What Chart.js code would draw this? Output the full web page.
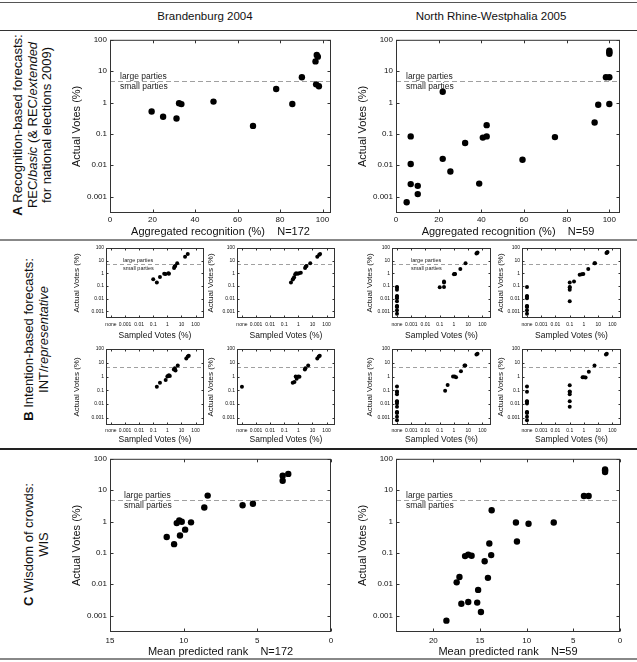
<!DOCTYPE html>
<html>
<head>
<meta charset="utf-8">
<script src="https://cdn.jsdelivr.net/npm/chart.js@4.4.1/dist/chart.umd.min.js"></script>
<style>
  body { margin: 0; width: 637px; height: 662px; position: relative; overflow: hidden; background: #fff;
         font-family: "Liberation Sans", Arial, sans-serif; color: #111; }
  canvas { position: absolute; }
  .hl { position: absolute; left: 0; width: 637px; }
  .ct { position: absolute; width: 300px; text-align: center; font-size: 11.5px; line-height: 14px; white-space: nowrap; }
  .rl { position: absolute; transform: rotate(-90deg); text-align: center; white-space: nowrap;
        font-size: 13px; line-height: 14.5px; }
</style>
</head>
<body>
<div class="hl" style="top:2px;height:1px;background:#555"></div>
<div class="hl" style="top:30px;height:1px;background:#333"></div>
<div class="hl" style="top:239px;height:2px;background:#888"></div>
<div class="hl" style="top:448px;height:2px;background:#222"></div>
<div class="hl" style="top:658px;height:2px;background:#888"></div>

<div class="ct" style="left:55px;top:9px">Brandenburg 2004</div>
<div class="ct" style="left:341px;top:9px">North Rhine-Westphalia 2005</div>

<div class="rl" style="left:-72px;top:103px;width:210px;height:44px">
  <b>A</b> Recognition-based forecasts:<br>REC/<i>basic</i> (&amp; REC/<i>extended</i><br>for national elections 2009)
</div>
<div class="rl" style="left:-64px;top:325px;width:200px;height:29px">
  <b>B</b> Intention-based forecasts:<br>INT/<i>representative</i>
</div>
<div class="rl" style="left:-64px;top:530px;width:200px;height:29px">
  <b>C</b> Wisdom of crowds:<br>WIS
</div>

<script>
// axis ticks
const Y_TICKS = [0.001, 0.01, 0.1, 1, 10, 100];
const Y_LABELS = ['0.001', '0.01', '0.1', '1', '10', '100'];
const REC_TICKS = [0, 20, 40, 60, 80, 100];
const RANK_TICKS_BB = [0, 5, 10, 15];
const RANK_TICKS_NRW = [0, 5, 10, 15, 20];
const SAMPLED_TICKS = [1e-4, 1e-3, 1e-2, 0.1, 1, 10, 100];
const SAMPLED_LABELS = ['none', '0.001', '0.01', '0.1', '1', '10', '100'];
const NONE = 1e-4;          // "none" sampled votes
const SPLIT = 5;            // large / small party threshold (%)
const SPLIT_LABELS = ['large parties', 'small parties'];

// A: recognition-based
const recBB   = [19.6, 25.0, 31.3, 32.5, 33.6, 48.7, 67.3, 78.2, 85.8, 90.3, 96.7, 97.3, 97.8, 97.0, 98.3];
const votesBB = [0.52, 0.35, 0.31, 0.95, 0.89, 1.07, 0.18, 2.7, 0.9, 6.4, 20.5, 33, 29, 3.8, 3.3];
const recNRW   = [5.0, 6.9, 6.9, 6.9, 10.2, 10.2, 21.9, 21.9, 25.5, 32.4, 39.0, 40.7, 42.5, 42.5, 59.3, 74.5, 93.1, 94.8, 100, 98.4, 100, 100, 100, 100];
const votesNRW = [0.00066, 0.083, 0.011, 0.0025, 0.0022, 0.0012, 2.2, 0.016, 0.0063, 0.051, 0.0026, 0.076, 0.19, 0.083, 0.015, 0.079, 0.23, 0.85, 0.9, 6.4, 6.4, 45, 40, 36];

// B: intention-based (sampled vs actual)
const intBB1x = [0.1, 0.18, 0.3, 0.6, 0.75, 1.2, 1.3, 3.0, 3.3, 3.6, 5.0, 18, 28];
const intBB1y = [0.35, 0.19, 0.52, 0.95, 0.9, 1.0, 0.92, 2.7, 3.4, 3.8, 6.4, 20.5, 33];
const intBB2x = [0.3, 0.4, 0.45, 0.5, 0.6, 0.7, 0.9, 1.1, 1.5, 3.0, 3.4, 3.8, 7, 22, 30, 35];
const intBB2y = [0.19, 0.33, 0.4, 0.5, 0.85, 1.0, 0.95, 1.0, 1.1, 2.7, 3.5, 3.8, 6.4, 20, 29, 33];
const intBB3x = [0.18, 0.3, 0.76, 1.0, 1.1, 1.3, 1.5, 2.9, 3.4, 3.8, 5.5, 22, 28, 33];
const intBB3y = [0.18, 0.35, 0.56, 1.0, 1.1, 1.25, 1.1, 3.2, 4.0, 2.7, 6.3, 20, 28, 33];
const intBB4x = [NONE, 0.4, 0.53, 0.65, 0.76, 1.0, 1.2, 2.9, 3.2, 5.0, 22, 28, 33];
const intBB4y = [0.18, 0.35, 0.4, 1.0, 0.7, 1.0, 0.95, 3.2, 4.0, 6.3, 20, 29, 33];

const intNRW1x = [NONE, NONE, NONE, NONE, NONE, NONE, NONE, NONE, NONE, NONE, NONE, NONE, 0.1, 0.2, 0.2, 0.2, 1.0, 1.1, 1.2, 2.8, 6.5, 38, 42, 45];
const intNRW1y = [0.083, 0.076, 0.051, 0.016, 0.015, 0.011, 0.0063, 0.0026, 0.0025, 0.0022, 0.0012, 0.00066, 0.079, 0.083, 0.19, 0.23, 0.85, 0.9, 0.9, 2.2, 6.4, 36, 40, 45];
const intNRW2x = [NONE, NONE, NONE, NONE, NONE, NONE, NONE, NONE, NONE, 0.1, 0.1, 0.1, 0.1, 0.1, 0.2, 0.5, 0.7, 0.9, 2.0, 5.5, 6.0, 38, 42, 45];
const intNRW2y = [0.083, 0.016, 0.015, 0.011, 0.0026, 0.0025, 0.0022, 0.0012, 0.00066, 0.19, 0.083, 0.076, 0.051, 0.0063, 0.23, 0.79, 0.85, 0.9, 2.2, 6.4, 6.4, 40, 45, 48];
const intNRW3x = [NONE, NONE, NONE, NONE, NONE, NONE, NONE, NONE, NONE, NONE, NONE, NONE, NONE, 0.24, 0.36, 0.86, 1.1, 1.4, 3.1, 5.5, 6.2, 38, 45];
const intNRW3y = [0.19, 0.083, 0.076, 0.051, 0.016, 0.015, 0.011, 0.0063, 0.0026, 0.0025, 0.0022, 0.0012, 0.00066, 0.094, 0.24, 1.0, 1.0, 0.9, 2.4, 6.4, 6.4, 40, 45];
const intNRW4x = [NONE, NONE, NONE, NONE, NONE, NONE, NONE, NONE, NONE, NONE, 0.1, 0.1, 0.1, 0.1, 0.1, 0.1, 0.8, 1.0, 1.3, 2.2, 5.5, 35, 40];
const intNRW4y = [0.19, 0.079, 0.016, 0.015, 0.011, 0.0026, 0.0025, 0.0022, 0.0012, 0.00066, 0.23, 0.083, 0.076, 0.051, 0.016, 0.0063, 0.9, 0.9, 0.85, 2.2, 6.4, 40, 45];

// C: wisdom of crowds (mean predicted rank)
const rankBB     = [11.15, 10.65, 10.47, 10.3, 10.25, 10.13, 9.9, 9.5, 8.6, 8.37, 6.0, 5.3, 3.28, 3.28, 2.9];
const votesBBwis = [0.32, 0.19, 0.89, 1.08, 0.36, 0.98, 0.55, 0.94, 2.8, 6.7, 3.3, 3.7, 29, 20, 33];
const rankNRW     = [18.6, 17.5, 17.2, 17.0, 16.6, 16.26, 15.9, 16.26, 15.3, 14.9, 15.2, 14.5, 14.15, 14.0, 13.8, 13.75, 11.15, 11.04, 9.8, 7.1, 3.86, 3.36, 1.6, 1.6, 1.6];
const votesNRWwis = [0.00069, 0.0115, 0.017, 0.0024, 0.079, 0.088, 0.081, 0.0027, 0.0026, 0.0013, 0.0066, 0.054, 0.016, 0.2, 0.085, 2.3, 0.93, 0.23, 0.85, 0.93, 6.5, 6.5, 46, 42, 38];

const FONT = '"Liberation Sans", Arial, sans-serif';
Chart.defaults.font.family = FONT;
Chart.defaults.color = '#111';

const zip = (xs, ys) => xs.map((x, i) => ({x: x, y: ys[i]}));
const setTicks = vals => s => { s.ticks = vals.map(v => ({value: v})); };

// box with inward ticks, plus the dashed 5% line
const frame = {
  id: 'frame',
  beforeDatasetsDraw(chart, args, o) {
    const {ctx, chartArea: a, scales: {y}} = chart;
    const yy = Math.round(y.getPixelForValue(SPLIT)) + 0.5;
    ctx.save();
    ctx.strokeStyle = '#a0a0a0';
    ctx.lineWidth = 1;
    ctx.setLineDash(o.dash);
    ctx.beginPath(); ctx.moveTo(a.left, yy); ctx.lineTo(a.right, yy); ctx.stroke();
    if (o.label) {
      ctx.fillStyle = '#222';
      ctx.font = o.label + 'px ' + FONT;
      ctx.textBaseline = 'middle';
      ctx.fillText(SPLIT_LABELS[0], a.left + o.dx, yy - o.dy);
      ctx.fillText(SPLIT_LABELS[1], a.left + o.dx, yy + o.dy);
    }
    ctx.restore();
  },
  afterDraw(chart, args, o) {
    const {ctx, chartArea: a, scales: {x, y}} = chart;
    const l = a.left + 0.5, r = a.right - 0.5, t = a.top + 0.5, b = a.bottom - 0.5;
    ctx.save();
    ctx.strokeStyle = '#333';
    ctx.lineWidth = 1;
    ctx.strokeRect(l, t, r - l, b - t);
    ctx.beginPath();
    x.ticks.forEach(tk => {
      const px = Math.round(x.getPixelForValue(tk.value)) + 0.5;
      ctx.moveTo(px, b); ctx.lineTo(px, b - o.tick);
      ctx.moveTo(px, t); ctx.lineTo(px, t + o.tick);
    });
    y.ticks.forEach(tk => {
      const py = Math.round(y.getPixelForValue(tk.value)) + 0.5;
      ctx.moveTo(l, py); ctx.lineTo(l + o.tick, py);
      ctx.moveTo(r, py); ctx.lineTo(r - o.tick, py);
    });
    ctx.stroke();
    ctx.restore();
  }
};

function plot(p) {
  const L = Math.round(p.ytx - p.yts * 0.6);
  const B = Math.round(p.xty + p.xts * 0.6);
  const T = p.t - p.padT, R = p.r + p.padR;
  const cv = document.createElement('canvas');
  cv.width = R - L; cv.height = B - T;
  cv.style.left = L + 'px'; cv.style.top = T + 'px';
  cv.style.width = (R - L) + 'px'; cv.style.height = (B - T) + 'px';
  document.body.appendChild(cv);
  const leftSpace = p.l - L, bottomSpace = B - p.b;
  const x = p.x;
  return new Chart(cv, {
    type: 'scatter',
    data: { datasets: [{ data: p.points, pointRadius: p.radius, pointHoverRadius: p.radius,
                         pointBackgroundColor: '#000', pointBorderWidth: 0 }] },
    options: {
      responsive: false, animation: false, events: [],
      layout: { padding: { top: p.padT, right: p.padR, left: 0, bottom: 0 } },
      plugins: { legend: { display: false }, tooltip: { enabled: false }, frame: p.frame },
      scales: {
        x: {
          type: x.type, min: x.min, max: x.max, reverse: !!x.reverse,
          grid: { display: false, drawTicks: false }, border: { display: false },
          afterBuildTicks: setTicks(x.ticks),
          ticks: { font: { size: p.tks }, padding: p.xPad, maxRotation: 0, autoSkip: false,
                   callback: (v, i) => x.labels ? x.labels[i] : String(v) },
          title: { display: true, text: p.xTitle, font: { size: p.xts }, padding: 0 },
          afterFit: s => { s.height = bottomSpace; }
        },
        y: {
          type: 'logarithmic', min: Math.pow(10, -3.5), max: 100,
          grid: { display: false, drawTicks: false }, border: { display: false },
          afterBuildTicks: setTicks(Y_TICKS),
          ticks: { font: { size: p.tks }, padding: p.yPad, autoSkip: false,
                   callback: (v, i) => Y_LABELS[i] },
          title: { display: true, text: 'Actual Votes (%)', font: { size: p.yts }, padding: 0 },
          afterFit: s => { s.width = leftSpace; }
        }
      }
    },
    plugins: [frame]
  });
}

const REC_X = { type: 'linear', min: 0, max: 104, ticks: REC_TICKS };
const SAMPLED_X = { type: 'logarithmic', min: Math.pow(10, -4.35), max: Math.pow(10, 2.6),
                    ticks: SAMPLED_TICKS, labels: SAMPLED_LABELS };
const N_GAP = '\u00a0\u00a0\u00a0\u00a0';

const big = { yts: 11, xts: 11, tks: 8, padT: 6, padR: 10, yPad: 3, radius: 3.2 };
const bigFrame = { dash: [5, 3], tick: 3, label: 8.5, dx: 10, dy: 5 };

// row A
plot(Object.assign({}, big, { l: 110, t: 38, r: 331, b: 213, ytx: 77, xty: 232, xPad: 2, x: REC_X,
  xTitle: 'Aggregated recognition (%)' + N_GAP + 'N=172', points: zip(recBB, votesBB), frame: bigFrame }));
plot(Object.assign({}, big, { l: 396, t: 38, r: 620, b: 213, ytx: 363, xty: 232, xPad: 2,
  x: Object.assign({}, REC_X, { max: 105 }),
  xTitle: 'Aggregated recognition (%)' + N_GAP + 'N=59', points: zip(recNRW, votesNRW), frame: bigFrame }));

// row C
plot(Object.assign({}, big, { l: 110, t: 457, r: 331, b: 632, ytx: 77, xty: 652, xPad: 3.5,
  x: { type: 'linear', min: 0, max: 15, reverse: true, ticks: RANK_TICKS_BB },
  xTitle: 'Mean predicted rank' + N_GAP + 'N=172', points: zip(rankBB, votesBBwis),
  frame: Object.assign({}, bigFrame, { dx: 14 }) }));
plot(Object.assign({}, big, { l: 396, t: 457, r: 620, b: 632, ytx: 363, xty: 652, xPad: 3.5,
  x: { type: 'linear', min: 0, max: 24, reverse: true, ticks: RANK_TICKS_NRW },
  xTitle: 'Mean predicted rank' + N_GAP + 'N=59', points: zip(rankNRW, votesNRWwis), frame: bigFrame }));

// row B (small multiples)
const small = { yts: 8, xts: 8.5, tks: 5, padT: 4, padR: 6, yPad: 2, radius: 2, x: SAMPLED_X,
                xTitle: 'Sampled Votes (%)' };
const smallFrame = { dash: [4, 3], tick: 2, label: 0 };
const labFrame = { dash: [4, 3], tick: 2, label: 5.5, dx: 17, dy: 4 };
const rowTop = { t: 247, b: 318, xty: 336, xPad: 4 };
const rowBot = { t: 348, b: 425, xty: 440, xPad: 3 };

plot(Object.assign({}, small, rowTop, { l: 106, r: 204, ytx: 77,  points: zip(intBB1x, intBB1y), frame: labFrame }));
plot(Object.assign({}, small, rowTop, { l: 237, r: 335, ytx: 211, points: zip(intBB2x, intBB2y), frame: smallFrame }));
plot(Object.assign({}, small, rowBot, { l: 106, r: 204, ytx: 77,  points: zip(intBB3x, intBB3y), frame: smallFrame }));
plot(Object.assign({}, small, rowBot, { l: 237, r: 335, ytx: 211, points: zip(intBB4x, intBB4y), frame: smallFrame }));

plot(Object.assign({}, small, rowTop, { l: 392, r: 491, ytx: 370, points: zip(intNRW1x, intNRW1y),
  frame: Object.assign({}, labFrame, { dx: 19 }) }));
plot(Object.assign({}, small, rowTop, { l: 522, r: 621, ytx: 501, points: zip(intNRW2x, intNRW2y), frame: smallFrame }));
plot(Object.assign({}, small, rowBot, { l: 392, r: 491, ytx: 370, points: zip(intNRW3x, intNRW3y), frame: smallFrame }));
plot(Object.assign({}, small, rowBot, { l: 522, r: 621, ytx: 501, points: zip(intNRW4x, intNRW4y), frame: smallFrame }));
</script>
</body>
</html>
